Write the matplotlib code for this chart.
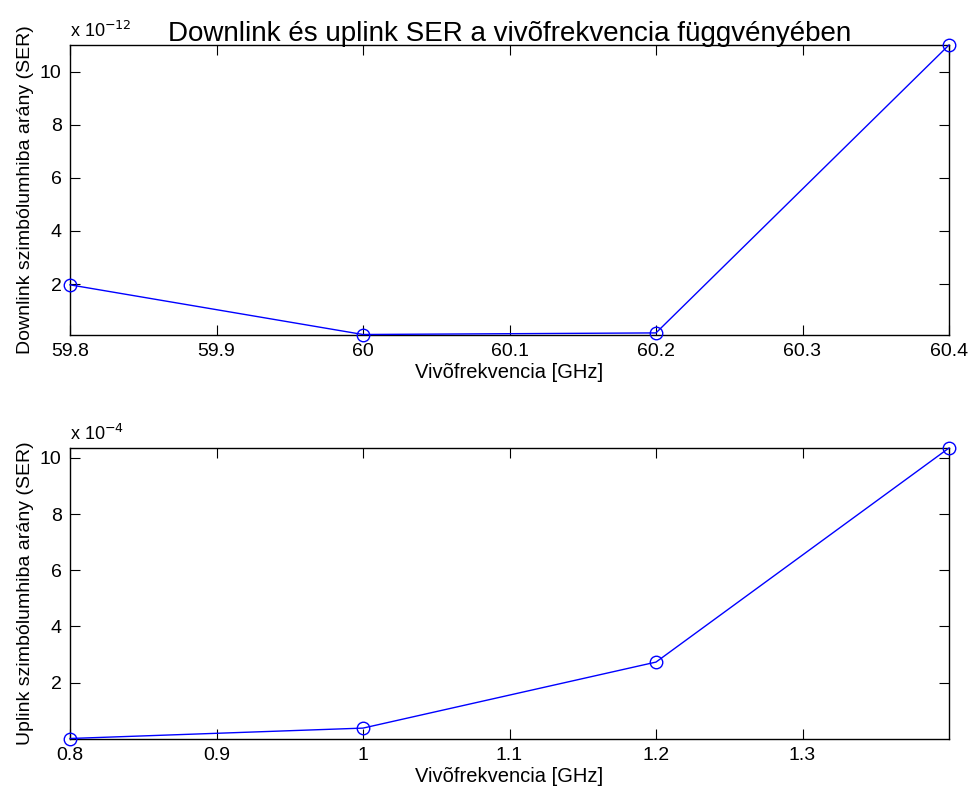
import matplotlib
matplotlib.use("Agg")
import matplotlib.pyplot as plt

plt.rcParams['font.family'] = ['Liberation Sans', 'DejaVu Sans']

# Data
dl_freq = [59.8, 60.0, 60.2, 60.4]
dl_ser = [1.97e-12, 0.10e-12, 0.16e-12, 11.0e-12]
ul_freq = [0.8, 1.0, 1.2, 1.4]
ul_ser = [0.01e-4, 0.38e-4, 2.73e-4, 10.35e-4]

dl_xticks = [59.8, 59.9, 60.0, 60.1, 60.2, 60.3, 60.4]
dl_xticklabels = ['59.8', '59.9', '60', '60.1', '60.2', '60.3', '60.4']
ul_xticks = [0.8, 0.9, 1.0, 1.1, 1.2, 1.3]
ul_xticklabels = ['0.8', '0.9', '1', '1.1', '1.2', '1.3']
yticks = [2, 4, 6, 8, 10]

title = 'Downlink és uplink SER a vivõfrekvencia függvényében'
xlabel = 'Vivõfrekvencia [GHz]'
dl_ylabel = 'Downlink szimbólumhiba arány (SER)'
ul_ylabel = 'Uplink szimbólumhiba arány (SER)'

fig = plt.figure(figsize=(9.71, 7.89), dpi=100)
ax1 = fig.add_axes([70/971, 1-334.5/789, 879/971, 289.5/789])
ax2 = fig.add_axes([70/971, 1-738.5/789, 879/971, 290.5/789])

def style(ax, x, y, scale, exp, xticks, xticklabels, ylabel):
    ys = [v / scale for v in y]
    ax.plot(x, ys, color='blue', lw=1.0, marker='o', markersize=9,
            markerfacecolor='none', markeredgecolor='blue', markeredgewidth=1.0,
            clip_on=False, zorder=5)
    ax.set_xlim(min(x), max(x))
    ax.set_ylim(min(ys), max(ys))
    ax.set_xticks(xticks)
    ax.set_xticklabels(xticklabels)
    ax.set_yticks(yticks)
    ax.set_yticklabels([str(t) for t in yticks])
    ax.tick_params(direction='in', length=7, width=0.8, labelsize=14,
                   top=True, right=True, pad=6, colors='black')
    for s in ax.spines.values():
        s.set_linewidth(1.0)
    ax.set_xlabel(xlabel, fontsize=14.5, labelpad=2)
    ax.set_ylabel(ylabel, fontsize=14, labelpad=4)
    ax.text(0.0, 1.015, r'x 10$^{%d}$' % exp, transform=ax.transAxes,
            fontsize=13, ha='left', va='bottom')

style(ax1, dl_freq, dl_ser, 1e-12, -12, dl_xticks, dl_xticklabels, dl_ylabel)
style(ax2, ul_freq, ul_ser, 1e-4, -4, ul_xticks, ul_xticklabels, ul_ylabel)
ax1.set_title(title, fontsize=20, pad=3)

fig.savefig('out.png', dpi=100)
